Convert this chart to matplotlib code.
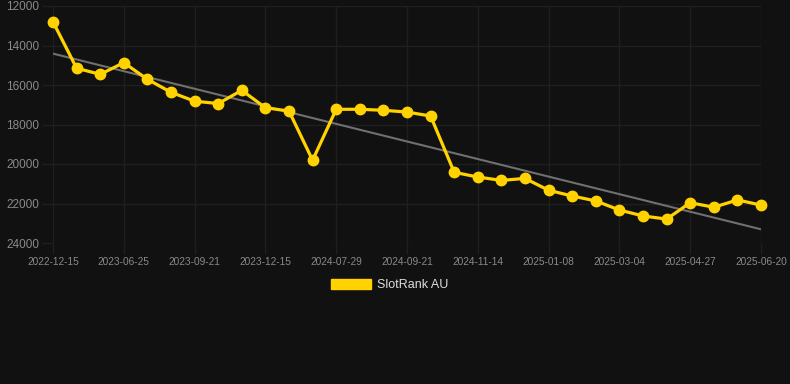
import numpy as np
import matplotlib
matplotlib.use('Agg')
from matplotlib import pyplot as plt
from matplotlib.patches import Patch

plt.rcParams['font.family'] = ['Liberation Sans', 'DejaVu Sans']

# rank history (lower number = better rank)
dates = ['2022-12-15', '', '', '2023-06-25', '', '', '2023-09-21', '', '', '2023-12-15', '', '',
         '2024-07-29', '', '', '2024-09-21', '', '', '2024-11-14', '', '', '2025-01-08', '', '',
         '2025-03-04', '', '', '2025-04-27', '', '', '2025-06-20']
ranks = [12800, 15150, 15460, 14870, 15710, 16370, 16820, 16940, 16270, 17150, 17320,
         19810, 17230, 17230, 17280, 17370, 17570, 20420, 20660, 20830, 20730, 21330,
         21620, 21870, 22330, 22630, 22790, 21960, 22190, 21820, 22080]
series_name = 'SlotRank AU'

bg = '#111111'
yellow = '#FFD200'
grid_c = '#1f1f1f'
tick_c = '#8a8a8a'

fig = plt.figure(figsize=(7.9, 3.84), dpi=100, facecolor=bg)
W, H = 790, 384
ax = fig.add_axes([53 / W, 1 - 243 / H, (761 - 53) / W, (243 - 6) / H], facecolor=bg)

x = np.arange(len(ranks))
ax.plot(x, ranks, color=yellow, lw=2.3, marker='o', ms=7.5, clip_on=False, zorder=3)

# trend line
k, b = np.polyfit(x, ranks, 1)
ax.plot([x[0], x[-1]], [k * x[0] + b, k * x[-1] + b], color='#707070', lw=1.5, zorder=2)

ax.set_xlim(0, len(ranks) - 1)
ax.set_ylim(24000, 12000)
ax.set_yticks(range(12000, 24001, 2000))
ticks = [i for i, d in enumerate(dates) if d]
ax.set_xticks(ticks)
ax.set_xticklabels([dates[i] for i in ticks])

ax.grid(True, color=grid_c, lw=1)
ax.set_axisbelow(True)
for s in ax.spines.values():
    s.set_visible(False)
ax.tick_params(axis='both', color=grid_c, length=8, width=1, labelcolor=tick_c)
ax.tick_params(axis='y', labelsize=8.5, pad=2)
ax.tick_params(axis='x', labelsize=7.3, pad=2)

leg = fig.legend(handles=[Patch(facecolor=yellow, edgecolor=yellow, label=series_name)],
                 loc='center', bbox_to_anchor=(390 / W, 1 - 285 / H), frameon=False,
                 fontsize=9, handlelength=3.2, handleheight=0.9, handletextpad=0.5)
for t in leg.get_texts():
    t.set_color('#dddddd')

fig.savefig('out.png', dpi=100, facecolor=bg)
